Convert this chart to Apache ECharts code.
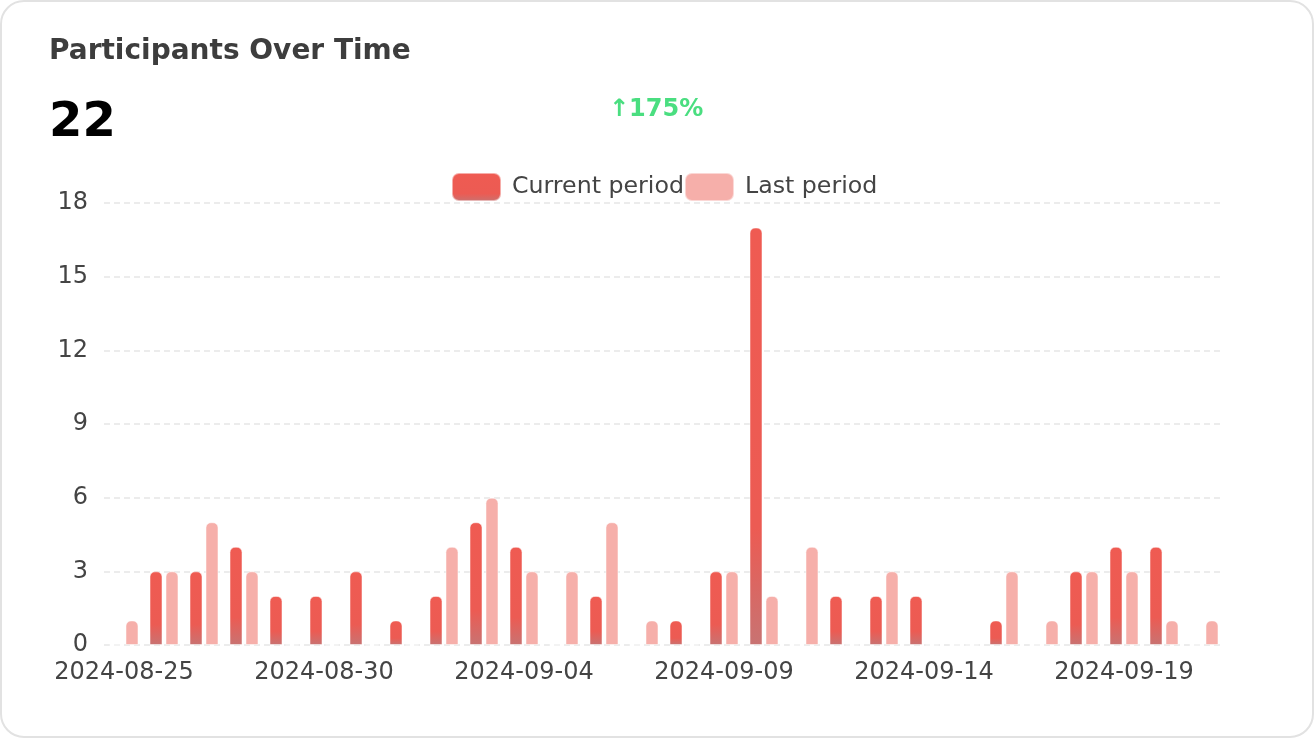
<!DOCTYPE html>
<html><head><meta charset="utf-8">
<script src="https://cdn.jsdelivr.net/npm/echarts@6/dist/echarts.min.js"></script>
<style>
html,body{margin:0;padding:0;background:#fff;}
#card{position:absolute;left:0;top:0;width:1310px;height:734px;border:2px solid #e2e2e2;border-radius:24px;background:#fff;overflow:hidden;}
#chart{position:absolute;left:-2px;top:-2px;width:1314px;height:738px;}
</style></head>
<body><div id="card"><div id="chart"></div></div>
<script>
const categories = ['2024-08-25','2024-08-26','2024-08-27','2024-08-28','2024-08-29','2024-08-30','2024-08-31','2024-09-01','2024-09-02','2024-09-03','2024-09-04','2024-09-05','2024-09-06','2024-09-07','2024-09-08','2024-09-09','2024-09-10','2024-09-11','2024-09-12','2024-09-13','2024-09-14','2024-09-15','2024-09-16','2024-09-17','2024-09-18','2024-09-19','2024-09-20','2024-09-21'];
const currentPeriod = [0,3,3,4,2,2,3,1,2,5,4,0,2,0,1,3,17,0,2,2,2,0,1,0,3,4,4,0];
const lastPeriod    = [1,3,5,3,0,0,0,0,4,6,3,3,5,1,0,3,2,4,0,3,0,0,3,1,3,3,1,1];
const titleText = 'Participants Over Time';
const totalText = '22';
const changeText = '↑175%';
const seriesNames = ['Current period','Last period'];

const chart = echarts.init(document.getElementById('chart'));
const font = 'DejaVu Sans';
chart.setOption({
  animation:false,
  textStyle:{fontFamily:font},
  title:[
    {text:titleText,left:44,top:33,textStyle:{fontFamily:font,fontSize:28,fontWeight:'bold',color:'#3d3d3d'}},
    {text:totalText,left:44,top:95,textStyle:{fontFamily:font,fontSize:48,fontWeight:'bold',color:'#000'}},
    {text:changeText,left:604,top:93,textStyle:{fontFamily:font,fontSize:24,fontWeight:'bold',color:'#4ade80'}}
  ],
  legend:{
    data:seriesNames,left:451,top:172,padding:0,itemWidth:49,itemHeight:28,itemGap:0,
    icon:'roundRect',
    textStyle:{fontFamily:font,fontSize:23.7,color:'#444',padding:[0,0,0,6]}
  },
  grid:{left:104,right:90,top:203,bottom:93,containLabel:false},
  xAxis:{
    type:'category',data:categories,
    axisLine:{show:false},axisTick:{show:false},
    axisLabel:{interval:4,fontFamily:font,fontSize:24,color:'#444',margin:16}
  },
  yAxis:{
    type:'value',min:0,max:18,interval:3,
    axisLine:{show:false},axisTick:{show:false},
    axisLabel:{fontFamily:font,fontSize:24,color:'#444',margin:16},
    splitLine:{lineStyle:{type:[6,4],color:'#e6e6e6',width:1.5}}
  },
  series:[
    {name:seriesNames[0],type:'bar',data:currentPeriod,barWidth:13,barGap:'23%',
     itemStyle:{borderRadius:[5,5,0,0],borderColor:'rgba(255,255,255,0.5)',borderWidth:1,
       color:new echarts.graphic.LinearGradient(0,0,0,1,[{offset:0,color:'#ef5b52'},{offset:0.72,color:'#ec5b53'},{offset:1,color:'#c87372'}])}},
    {name:seriesNames[1],type:'bar',data:lastPeriod,barWidth:13,
     itemStyle:{borderRadius:[5,5,0,0],borderColor:'rgba(255,255,255,0.5)',borderWidth:1,color:'#f6afaa'}}
  ]
});
</script></body></html>
